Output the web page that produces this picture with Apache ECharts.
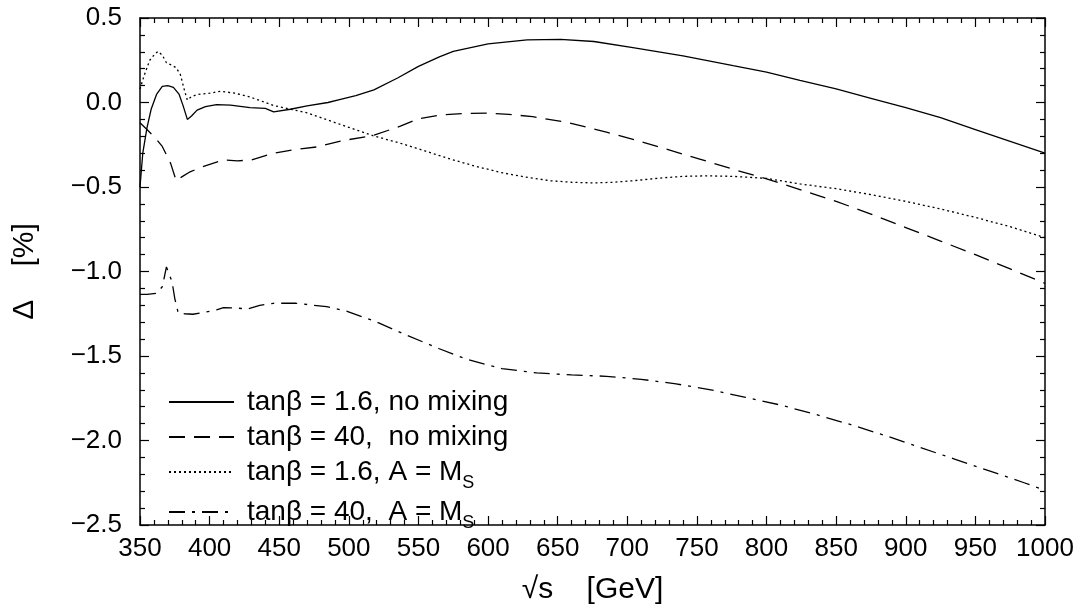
<!DOCTYPE html>
<html>
<head>
<meta charset="utf-8">
<script src="https://cdn.jsdelivr.net/npm/echarts@6/dist/echarts.min.js"></script>
<style>
html,body{margin:0;padding:0;background:#fff;}
#c{width:1083px;height:610px;}
</style>
</head>
<body>
<div id="c"></div>
<script>
// ---- data (sqrt(s) in GeV, Delta in %) ----
const xTicks = [350, 400, 450, 500, 550, 600, 650, 700, 750, 800, 850, 900, 950, 1000];
const yTicks = [0.5, 0.0, -0.5, -1.0, -1.5, -2.0, -2.5];

const seriesNames = [
  'tanβ = 1.6, no mixing',
  'tanβ = 40,  no mixing',
  'tanβ = 1.6, A = M_S',
  'tanβ = 40,  A = M_S'
];

const tb16NoMix = [[350,-0.50],[352,-0.30],[355,-0.15],[358,-0.04],[362,0.05],[366,0.095],[370,0.10],[374,0.09],[378,0.05],[381,-0.02],[384,-0.10],[387,-0.08],[391,-0.045],[397,-0.025],[405,-0.012],[415,-0.015],[429,-0.03],[440,-0.035],[446,-0.055],[458,-0.04],[470,-0.02],[485,0.0],[494,0.018],[505,0.04],[518,0.075],[535,0.145],[550,0.214],[565,0.27],[575,0.302],[600,0.347],[628,0.37],[652,0.373],[676,0.361],[704,0.325],[740,0.276],[776,0.218],[800,0.18],[824,0.131],[850,0.08],[875,0.025],[900,-0.03],[925,-0.09],[950,-0.16],[975,-0.23],[1000,-0.30]];

const tb40NoMix = [[350,-0.12],[355,-0.16],[361,-0.21],[366,-0.26],[369,-0.31],[372,-0.36],[376,-0.463],[380,-0.44],[386,-0.41],[395,-0.38],[410,-0.34],[420,-0.345],[430,-0.34],[446,-0.30],[460,-0.28],[477,-0.263],[494,-0.228],[518,-0.194],[537,-0.14],[550,-0.096],[565,-0.075],[582,-0.065],[601,-0.063],[615,-0.07],[632,-0.084],[656,-0.116],[685,-0.175],[705,-0.22],[728,-0.276],[752,-0.335],[776,-0.395],[800,-0.452],[824,-0.515],[850,-0.585],[875,-0.66],[900,-0.74],[925,-0.82],[950,-0.90],[975,-0.985],[1000,-1.07]];

const tb16Mix = [[350,0.08],[353,0.16],[357,0.25],[361,0.29],[363,0.302],[366,0.28],[369,0.235],[373,0.22],[376,0.205],[379,0.165],[382,0.07],[384,0.014],[387,0.035],[391,0.047],[400,0.055],[408,0.067],[418,0.055],[429,0.033],[446,-0.018],[470,-0.061],[494,-0.13],[518,-0.198],[537,-0.241],[556,-0.29],[573,-0.335],[590,-0.375],[609,-0.414],[626,-0.44],[645,-0.463],[660,-0.472],[676,-0.476],[690,-0.472],[704,-0.463],[722,-0.448],[740,-0.437],[758,-0.434],[776,-0.437],[800,-0.449],[824,-0.482],[850,-0.51],[875,-0.545],[900,-0.585],[925,-0.63],[950,-0.68],[975,-0.735],[1000,-0.80]];

const tb40Mix = [[350,-1.135],[355,-1.135],[362,-1.129],[366,-1.09],[369,-0.973],[373,-1.06],[375,-1.16],[377.5,-1.247],[382,-1.25],[388,-1.253],[397,-1.24],[405,-1.227],[410,-1.214],[418,-1.215],[427,-1.222],[436,-1.20],[446,-1.188],[462,-1.188],[484,-1.208],[498,-1.234],[518,-1.292],[541,-1.375],[565,-1.457],[585,-1.52],[610,-1.575],[635,-1.60],[660,-1.612],[685,-1.62],[710,-1.638],[735,-1.665],[760,-1.70],[785,-1.745],[810,-1.79],[835,-1.845],[860,-1.905],[885,-1.97],[910,-2.04],[935,-2.11],[960,-2.18],[985,-2.25],[1000,-2.295]];

// ---- chart ----
const FONT = '"Liberation Sans", Arial, Helvetica, sans-serif';
const chart = echarts.init(document.getElementById('c'), null, {renderer: 'canvas'});

const fmtY = v => (v < 0 ? '\u2212' : '') + Math.abs(v).toFixed(1);
const fmtX = v => String(v);

function baseAxis(extra) {
  return Object.assign({
    type: 'value',
    axisLine: {show: true, onZero: false, lineStyle: {color: '#000', width: 1.5}},
    axisTick: {show: true, inside: true, length: 9, lineStyle: {color: '#000', width: 1.2}},
    minorTick: {show: true, splitNumber: 5, length: 5, lineStyle: {color: '#000', width: 1.2}},
    splitLine: {show: false},
    minorSplitLine: {show: false}
  }, extra);
}

const lineW = 1.3;
const styles = [
  {type: 'solid'},
  {type: [16, 9]},
  {type: [2, 3]},
  {type: [16, 7, 3, 7]}
];
const datasets = [tb16NoMix, tb40NoMix, tb16Mix, tb40Mix];

chart.setOption({
  animation: false,
  backgroundColor: '#fff',
  textStyle: {fontFamily: FONT},
  grid: {left: 140, right: 38, top: 18, bottom: 81, containLabel: false},
  xAxis: [
    baseAxis({
      position: 'bottom', min: xTicks[0], max: xTicks[xTicks.length - 1], interval: 50,
      axisLabel: {show: true, color: '#000', fontSize: 26, fontFamily: FONT, margin: 11, formatter: fmtX},
      name: '\u221As    [GeV]', nameLocation: 'middle', nameGap: 50,
      nameTextStyle: {color: '#000', fontSize: 30, fontFamily: FONT}
    }),
    baseAxis({
      position: 'top', min: xTicks[0], max: xTicks[xTicks.length - 1], interval: 50,
      axisLabel: {show: false}
    })
  ],
  yAxis: [
    baseAxis({
      position: 'left', min: yTicks[yTicks.length - 1], max: yTicks[0], interval: 0.5,
      axisLabel: {show: true, color: '#000', fontSize: 26, fontFamily: FONT, margin: 18, formatter: fmtY},
      name: '\u0394    [%]', nameLocation: 'middle', nameGap: 100, nameRotate: 90,
      nameTextStyle: {color: '#000', fontSize: 30, fontFamily: FONT}
    }),
    baseAxis({
      position: 'right', min: yTicks[yTicks.length - 1], max: yTicks[0], interval: 0.5,
      axisLabel: {show: false}
    })
  ],
  legend: {
    show: true,
    orient: 'vertical',
    left: 163, top: 382,
    itemWidth: 65, itemHeight: 10, itemGap: 5,
    data: seriesNames,
    itemStyle: {opacity: 0},
    formatter: n => n.replace('M_S', 'M{sub|S}'),
    textStyle: {
      color: '#000', fontSize: 28, fontFamily: FONT, lineHeight: 30,
      padding: [0, 0, 0, 8],
      rich: {
        sub: {fontSize: 18, fontFamily: FONT, color: '#000', verticalAlign: 'bottom', lineHeight: 18, padding: [0, 0, -5, 0]}
      }
    }
  },
  series: seriesNames.map((name, i) => ({
    name: name,
    type: 'line',
    xAxisIndex: 0, yAxisIndex: 0,
    data: datasets[i],
    showSymbol: false,
    symbol: 'none',
    smooth: false,
    lineStyle: Object.assign({color: '#000', width: lineW}, styles[i]),
    itemStyle: {color: '#000'},
    z: 3
  }))
});
</script>
</body>
</html>
